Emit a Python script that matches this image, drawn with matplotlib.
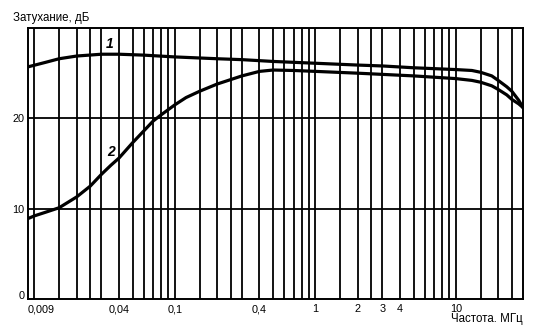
import numpy as np
import matplotlib
matplotlib.use('Agg')
from matplotlib import pyplot as plt
from matplotlib.ticker import FixedLocator, NullFormatter, NullLocator

plt.rcParams['font.family'] = ['Liberation Sans', 'DejaVu Sans']

# ________________________________________________________________________
# data

f1 = [0.009, 0.012, 0.015, 0.02, 0.03, 0.04, 0.06, 0.1, 0.2, 0.3, 0.5, 1,
      2, 3, 5, 10, 13, 15, 18, 20, 23, 25, 28, 30]
a1 = [25.7, 26.2, 26.6, 26.9, 27.1, 27.1, 27.0, 26.8, 26.6, 26.5, 26.3, 26.1,
      25.9, 25.8, 25.6, 25.4, 25.3, 25.1, 24.7, 24.2, 23.5, 23.0, 22.0, 21.2]

f2 = [0.009, 0.01, 0.012, 0.015, 0.02, 0.025, 0.03, 0.035, 0.04, 0.05, 0.06,
      0.07, 0.08, 0.1, 0.12, 0.15, 0.2, 0.3, 0.4, 0.5, 0.7, 1, 2, 5, 10, 13,
      15, 18, 20, 23, 25, 28, 30]
a2 = [8.9, 9.2, 9.6, 10.1, 11.3, 12.5, 13.8, 14.8, 15.6, 17.3, 18.6,
      19.7, 20.4, 21.5, 22.3, 23.0, 23.8, 24.7, 25.2, 25.35, 25.3, 25.2, 25.0,
      24.7, 24.4, 24.2, 24.0, 23.6, 23.2, 22.6, 22.1, 21.6, 21.2]

grid_f = [0.01, 0.015, 0.02, 0.025, 0.03, 0.04, 0.05, 0.06, 0.07, 0.08, 0.09,
          0.1, 0.15, 0.2, 0.25, 0.3, 0.4, 0.5, 0.6, 0.7, 0.8, 0.9,
          1, 1.5, 2, 2.5, 3, 4, 5, 6, 7, 8, 9, 10, 15, 20, 25]
xtick_f = [0.009, 0.04, 0.1, 0.4, 1, 2, 3, 4, 10]
xtick_lab = ['0,009', '0,04', '0,1', '0,4', '1', '2', '3', '4', '10']
ytick_v = [0, 10, 20]

# ________________________________________________________________________

fig = plt.figure(figsize=(5.38, 3.26), dpi=100)
ax1 = fig.add_axes([0.052, 0.083, 0.920, 0.831])

ax1.set_xscale('log')
ax1.set_xlim(0.009, 30)
ax1.set_ylim(0, 30)

for g in grid_f:
    ax1.axvline(g, color='black', linewidth=1.3, zorder=1)
for g in [10, 20]:
    ax1.axhline(g, color='black', linewidth=1.3, zorder=1)

ax1.plot(f1, a1, color='black', linewidth=2.3, zorder=3)
ax1.plot(f2, a2, color='black', linewidth=2.3, zorder=3)

ax1.text(0.0345, 28.2, '1', fontsize=10, fontweight='bold', style='italic',
         ha='center', va='center')
ax1.text(0.0352, 16.3, '2', fontsize=10, fontweight='bold', style='italic',
         ha='center', va='center')

ax1.xaxis.set_major_locator(FixedLocator(xtick_f))
ax1.xaxis.set_minor_locator(NullLocator())
ax1.xaxis.set_minor_formatter(NullFormatter())
ax1.set_xticklabels(xtick_lab)
ax1.tick_params(axis='x', length=0, pad=4, labelsize=7.8)
ax1.get_xticklabels()[0].set_horizontalalignment('left')

ax1.set_yticks(ytick_v)
ax1.set_yticklabels([str(v) for v in ytick_v])
ax1.tick_params(axis='y', length=0, pad=2.5, labelsize=7.8)
ax1.get_yticklabels()[0].set_verticalalignment('baseline')

for sp in ax1.spines.values():
    sp.set_linewidth(1.4)
    sp.set_color('black')

fig.text(0.024, 0.945, 'Затухание, дБ', fontsize=8.3, ha='left', va='center')
fig.text(0.972, 0.021, 'Частота. МГц', fontsize=8.3, ha='right', va='center')

fig.savefig('out.png', dpi=100)
